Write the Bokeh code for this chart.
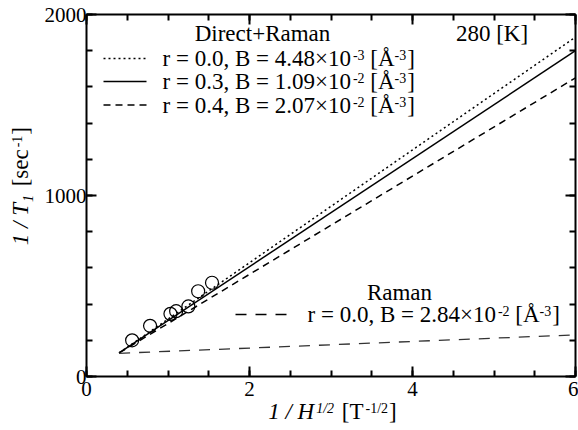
import math
from bokeh.plotting import figure
from bokeh.layouts import row, column
from bokeh.models import Range1d, LinearAxis, Label, Arrow, SingleIntervalTicker, CustomJSTickFormatter
from bokeh.embed import file_html
from bokeh.resources import INLINE

# ---------------- data ----------------
fit_x = [0.4, 6.0]
fit_r00 = [130, 1875]      # Direct+Raman, r = 0.0
fit_r03 = [130, 1800]      # Direct+Raman, r = 0.3
fit_r04 = [130, 1650]      # Direct+Raman, r = 0.4
raman_x = [0.4, 6.0]
raman_r00 = [128, 230]     # Raman only, r = 0.0
meas_x = [0.56, 0.78, 1.03, 1.10, 1.25, 1.37, 1.54]
meas_y = [200, 280, 346, 361, 387, 471, 518]

FONT = "Liberation Serif"
W, H = 578, 430          # whole picture
WL = 38                  # strip holding the y-axis title
HM = 405                 # height of the main plot
OV = 5                   # overlap of the x-title strip with the main plot
HB = H - HM + OV         # strip holding the x-axis title

p = figure(width=W - WL, height=HM, x_range=Range1d(0, 6), y_range=Range1d(0, 2000),
           output_backend="svg", toolbar_location=None,
           min_border_left=86 - WL, min_border_right=3, min_border_top=14, min_border_bottom=HM - 376)
p.outline_line_color = None
p.xgrid.visible = False
p.ygrid.visible = False
p.background_fill_color = "white"
p.border_fill_color = "white"


def style(ax, labels=True):
    ax.axis_line_width = 2
    ax.axis_line_color = "black"
    ax.major_tick_in = 10
    ax.major_tick_out = 0
    ax.minor_tick_in = 6
    ax.minor_tick_out = 0
    ax.major_tick_line_width = 2
    ax.minor_tick_line_width = 2
    ax.major_label_text_font = FONT
    ax.major_label_text_font_size = "21px"
    ax.major_label_text_color = "black"
    if not labels:
        ax.formatter = CustomJSTickFormatter(code="return ''")
        ax.major_label_text_font_size = "0px"
        ax.major_label_standoff = 0


p.xaxis.ticker = SingleIntervalTicker(interval=2, num_minor_ticks=4)
p.yaxis.ticker = SingleIntervalTicker(interval=1000, num_minor_ticks=5)
for ax in p.xaxis:
    style(ax)
    ax.major_label_standoff = 5
for ax in p.yaxis:
    style(ax)
    ax.major_label_standoff = 0

top = LinearAxis(ticker=SingleIntervalTicker(interval=2, num_minor_ticks=4))
style(top, labels=False)
p.add_layout(top, "above")
right = LinearAxis(ticker=SingleIntervalTicker(interval=1000, num_minor_ticks=5))
style(right, labels=False)
p.add_layout(right, "right")

# ---------------- curves and points ----------------
p.line(fit_x, fit_r00, line_color="black", line_width=1.5, line_dash="2 3")
p.line(fit_x, fit_r03, line_color="black", line_width=1.5)
p.line(fit_x, fit_r04, line_color="black", line_width=1.5, line_dash="7 5")
p.line(raman_x, raman_r00, line_color="#333333", line_width=1.3, line_dash="11 9")
p.scatter(meas_x, meas_y, marker="circle", size=13, fill_color=None,
          line_color="black", line_width=1.2)


# ---------------- strips for the axis titles ----------------
def strip(w, h, **kw):
    f = figure(width=w, height=h, x_range=Range1d(0, w), y_range=Range1d(0, h),
               output_backend="svg", toolbar_location=None,
               x_axis_location=None, y_axis_location=None,
               min_border_left=0, min_border_right=0, min_border_top=0, min_border_bottom=0, **kw)
    f.outline_line_color = None
    f.xgrid.visible = False
    f.ygrid.visible = False
    f.background_fill_alpha = 0
    f.border_fill_alpha = 0
    return f


left_strip = strip(WL, HM)
bottom_strip = strip(W, HB, margin=(-OV, 0, 0, 0))

# ---------------- text helpers ----------------
REG = {' ': 250, '.': 250, ',': 250, '=': 564, '+': 564, '/': 278, '[': 333, ']': 333,
       '-': 333, '×': 564, 'Å': 722, 'r': 333, 'B': 667, 'D': 722, 'i': 278, 'e': 444,
       'c': 444, 't': 278, 'R': 667, 'a': 444, 'm': 778, 'n': 500, 'K': 722, 'T': 611,
       's': 389, 'H': 722}
ITA = {' ': 250, '/': 278, 'T': 556, 'H': 722}
MID = 0.33   # distance from baseline up to the text middle, in em


def tw(s, size, italic):
    tbl = ITA if italic else REG
    return sum(tbl.get(c, 500) for c in s) * size / 1000.0


# reference-pixel -> data helpers (annotation placement only)
def dx(px):
    return (px - 86.0) / (489.0 / 6.0)


def dy(py):
    return (376.0 - py) / (362.0 / 2000.0)


def rich(fig, x, y, pieces, align="left", angle=0.0):
    # (x, y) is the baseline anchor; piece: (text, size, italic, baseline shift, gap before)
    total = sum(tw(t, s, it) + g for t, s, it, sh, g in pieces)
    cum = {"left": 0.0, "center": -total / 2.0, "right": -total}[align]
    for t, s, it, sh, g in pieces:
        cum += g
        lead = len(t) - len(t.lstrip(" "))
        txt = t.strip(" ")
        off = cum + tw(" " * lead, s, it)
        up = sh + MID * s
        if angle == 0:
            xo, yo = off, up
        else:
            xo, yo = -up, off
        fig.add_layout(Label(x=x, y=y, x_offset=xo, y_offset=yo, text=txt, angle=angle,
                             text_font=FONT, text_font_size=f"{s}px",
                             text_font_style="italic" if it else "normal",
                             text_baseline="middle", text_align="left",
                             text_color="black"))
        cum += tw(t, s, it)


BIG = 23
SUP = 14
RAISE = 6.5


def entry(mant, exp):
    return [(mant + "10", BIG, False, 0, 0), ("-" + exp, SUP, False, RAISE, 2),
            (" [Å", BIG, False, 0, 0), ("-3", SUP, False, RAISE, 0), ("]", BIG, False, 0, 1)]


# ---- Direct+Raman legend block ----
rich(p, dx(262), dy(40.7), [("Direct+Raman", BIG, False, 0, 0)], align="center")
rich(p, dx(491.5), dy(40.7), [("280 [K]", BIG, False, 0, 0)], align="center")

rows = [
    ("r = 0.0, B = 4.48×", "3", "2 3", 65.3, 58.0),
    ("r = 0.3, B = 1.09×", "2", None, 88.8, 81.0),
    ("r = 0.4, B = 2.07×", "2", "7 5", 112.3, 104.5),
]
for mant, exp, dash, base, liney in rows:
    kw = dict(line_color="black", line_width=1.5)
    if dash:
        kw["line_dash"] = dash
    p.add_layout(Arrow(end=None, x_start=dx(103), y_start=dy(liney),
                       x_end=dx(146), y_end=dy(liney), **kw))
    rich(p, dx(162), dy(base), entry(mant, exp))

# ---- Raman legend block ----
rich(p, dx(399), dy(299.5), [("Raman", BIG, False, 0, 0)], align="center")
p.add_layout(Arrow(end=None, x_start=dx(235), y_start=dy(314), x_end=dx(291), y_end=dy(314),
                   line_color="black", line_width=1.3, line_dash="11 9"))
rich(p, dx(307), dy(321.3), entry("r = 0.0, B = 2.84×", "2"))

# ---- axis titles ----
rich(bottom_strip, 332, H - 419, [("1 / H", BIG, True, 0, 0), ("1/2", SUP, True, RAISE, 2),
                                  (" [T", BIG, False, 0, 2), ("-1/2", SUP, False, RAISE, 2),
                                  ("]", BIG, False, 0, 1)],
     align="center")
rich(left_strip, 28, HM - 192, [("1 / T", BIG, True, 0, 0), ("1", SUP, True, -4.5, 1),
                                (" [sec", BIG, False, 0, 3), ("-1", SUP, False, RAISE, 2),
                                ("]", BIG, False, 0, 1)],
     align="center", angle=math.pi / 2)

layout = column(row(left_strip, p, spacing=0), bottom_strip, spacing=0)
open("out.html", "w").write(file_html(layout, INLINE))
